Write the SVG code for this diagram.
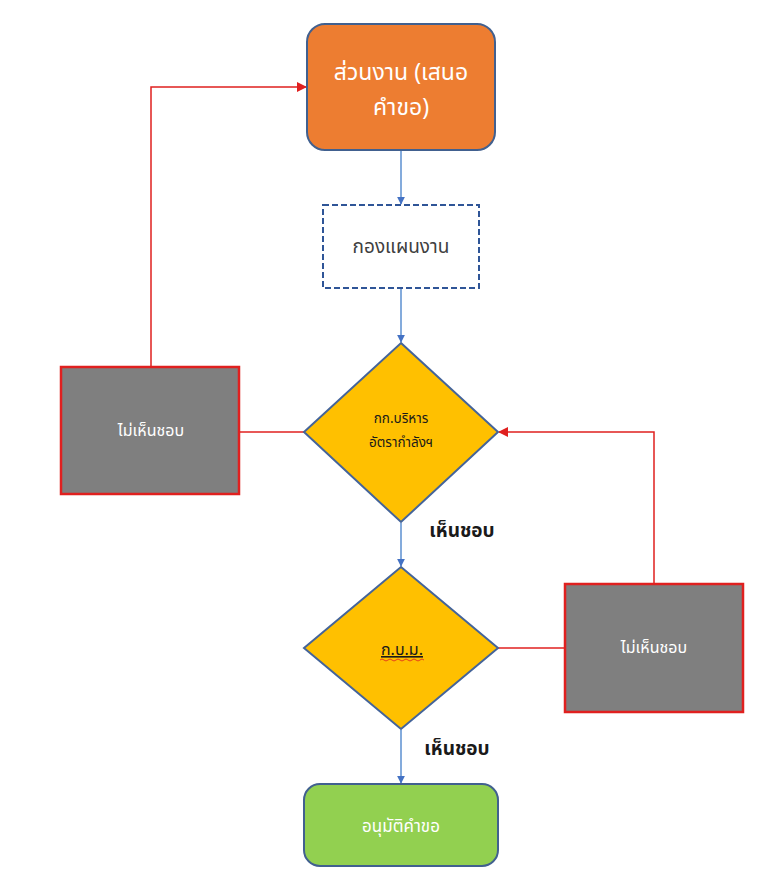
<svg xmlns="http://www.w3.org/2000/svg" width="782" height="872" viewBox="0 0 782 872">
<defs>
<style>
text{font-family:"Noto Sans Thai","Noto Sans","Tahoma","DejaVu Sans",sans-serif;text-anchor:middle}
.blue{stroke:#5B8FD0;stroke-width:1.5;fill:none}
.red{stroke:#E0201F;stroke-width:1.5;fill:none}
.gray{fill:#7F7F7F;stroke:#E0201F;stroke-width:2.5}
.dia{fill:#FFC000;stroke:#44649A;stroke-width:2}
.wt{fill:#FFFFFF}
</style>
<marker id="ab" viewBox="0 0 10 10" refX="9" refY="5" markerWidth="8" markerHeight="8" markerUnits="userSpaceOnUse" orient="auto"><path d="M0,0L10,5L0,10z" fill="#4472C4"/></marker>
<marker id="ar" viewBox="0 0 10 10" refX="9" refY="5" markerWidth="10" markerHeight="10" markerUnits="userSpaceOnUse" orient="auto"><path d="M0,0L10,5L0,10z" fill="#E0201F"/></marker>
</defs>
<rect width="782" height="872" fill="#FFFFFF"/>
<g id="connectors">
<line class="blue" x1="401" y1="151" x2="401" y2="204" marker-end="url(#ab)"/>
<line class="blue" x1="401" y1="289" x2="401" y2="342" marker-end="url(#ab)"/>
<line class="blue" x1="401" y1="523" x2="401" y2="566" marker-end="url(#ab)"/>
<line class="blue" x1="401" y1="730" x2="401" y2="783" marker-end="url(#ab)"/>
<line class="red" x1="304" y1="432" x2="239" y2="432"/>
<polyline class="red" points="151,367 151,87 306,87" marker-end="url(#ar)"/>
<line class="red" x1="498" y1="648" x2="565" y2="648"/>
<polyline class="red" points="654,584 654,432 499,432" marker-end="url(#ar)"/>
<text x="462" y="537" font-size="19" font-weight="bold" fill="#1A1A1A">เห็นชอบ</text>
<text x="457" y="755" font-size="19" font-weight="bold" fill="#1A1A1A">เห็นชอบ</text>
</g>
<g id="n-request">
<rect x="307" y="24" width="188" height="126" rx="18" fill="#ED7D31" stroke="#41608F" stroke-width="2"/>
<text class="wt" x="401" y="80" font-size="23">ส่วนงาน (เสนอ</text>
<text class="wt" x="401" y="115" font-size="23">คำขอ)</text>
</g>
<g id="n-plan">
<rect x="323" y="205" width="156" height="83" fill="#FFFFFF" stroke="#2F5597" stroke-width="2" stroke-dasharray="6,3"/>
<text x="401" y="253" font-size="19" fill="#404040">กองแผนงาน</text>
</g>
<g id="n-committee">
<polygon class="dia" points="401,343 498,432 401,522 304,432"/>
<text x="401" y="423" font-size="13.5" fill="#1A1A1A">กก.บริหาร</text>
<text x="401" y="447" font-size="13.5" fill="#1A1A1A">อัตรากำลังฯ</text>
</g>
<g id="n-kbm">
<polygon class="dia" points="401,567 498,648 401,729 304,648"/>
<text x="402" y="655" font-size="16" fill="#1A1A1A" text-decoration="underline">ก.บ.ม.</text>
<path d="M380,660 q2,-2 4,0 t4,0 t4,0 t4,0 t4,0 t4,0 t4,0 t4,0 t4,0 t4,0 t4,0" fill="none" stroke="#E0201F" stroke-width="0.8"/>
</g>
<g id="n-reject1">
<rect class="gray" x="61" y="367" width="178" height="127"/>
<text class="wt" x="151" y="436" font-size="16">ไม่เห็นชอบ</text>
</g>
<g id="n-reject2">
<rect class="gray" x="565" y="584" width="178" height="128"/>
<text class="wt" x="654" y="653" font-size="16">ไม่เห็นชอบ</text>
</g>
<g id="n-approve">
<rect x="304" y="784" width="194" height="82" rx="16" fill="#92D050" stroke="#41608F" stroke-width="2"/>
<text class="wt" x="401" y="832" font-size="17">อนุมัติคำขอ</text>
</g>
</svg>
